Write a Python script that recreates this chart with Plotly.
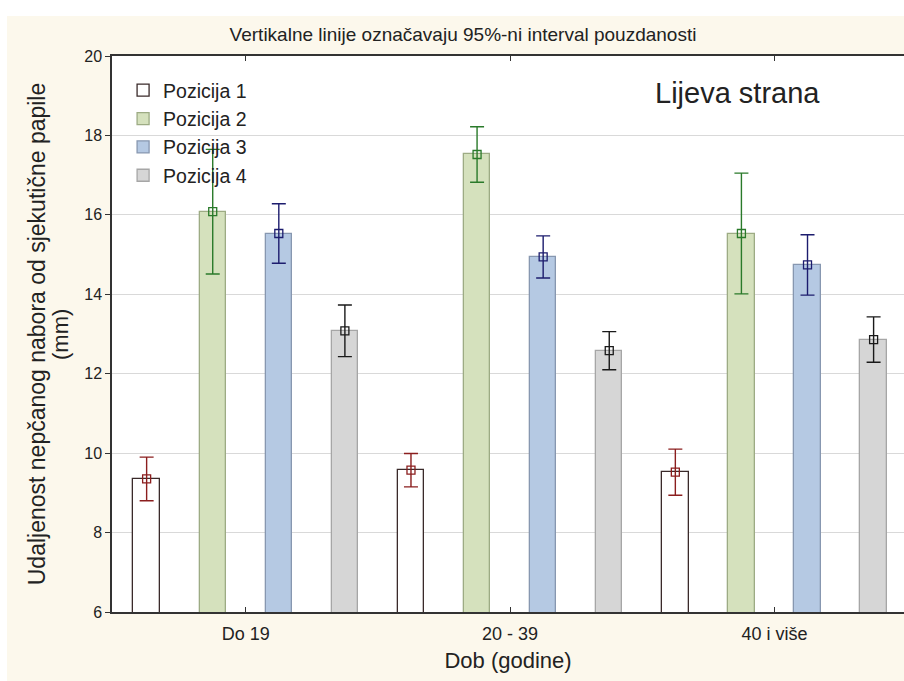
import numpy as np
import plotly.graph_objects as go

# ---- data ----
categories = ["Do 19", "20 - 39", "40 i više"]
series_names = ["Pozicija 1", "Pozicija 2", "Pozicija 3", "Pozicija 4"]
pozicija1 = [9.35, 9.57, 9.52]
pozicija1_ci = [0.55, 0.42, 0.58]
pozicija2 = [16.08, 17.52, 15.53]
pozicija2_ci = [1.57, 0.70, 1.52]
pozicija3 = [15.53, 14.94, 14.74]
pozicija3_ci = [0.75, 0.53, 0.76]
pozicija4 = [13.08, 12.58, 12.86]
pozicija4_ci = [0.65, 0.48, 0.57]
y_ticks = [6, 8, 10, 12, 14, 16, 18, 20]

# ---- styles ----
values = [pozicija1, pozicija2, pozicija3, pozicija4]
cis = [pozicija1_ci, pozicija2_ci, pozicija3_ci, pozicija4_ci]
fills = ["#ffffff", "#d5e1bd", "#b5c9e3", "#d6d6d6"]
borders = ["#3a2a2a", "#9dab84", "#8797b0", "#a6a6a6"]
ecolors = ["#8b1e1e", "#2a7a2a", "#1c1c6e", "#1a1a1a"]
FONT = "Liberation Sans, Arial, sans-serif"

W, H = 904, 681
L, T, B = 112, 56, 69
PLOT_W, PLOT_H = W - L, H - T - B

fig = go.Figure()
cat_idx = np.arange(len(categories))
for k in range(4):
    xs = cat_idx + (k - 1.5) * 0.25
    fig.add_trace(go.Bar(
        x=xs, y=values[k], width=0.1, name=series_names[k],
        marker=dict(color=fills[k], line=dict(color=borders[k], width=1.3)),
    ))
for k in range(4):
    xs = cat_idx + (k - 1.5) * 0.25
    fig.add_trace(go.Scatter(
        x=xs, y=values[k], mode="markers", showlegend=False,
        marker=dict(symbol="square-open", size=8, color=ecolors[k], line=dict(width=1.3)),
        error_y=dict(type="data", array=cis[k], visible=True, color=ecolors[k],
                     thickness=1.4, width=7),
    ))

fig.update_layout(
    width=W, height=H,
    margin=dict(l=L, r=0, t=T, b=B),
    paper_bgcolor="#fcf8ec", plot_bgcolor="#ffffff",
    font=dict(family=FONT, color="#222222"),
    showlegend=True,
    legend=dict(x=0.014, y=1 - 15 / PLOT_H, xanchor="left", yanchor="top",
                bgcolor="rgba(0,0,0,0)", font=dict(size=19.5, family=FONT, color="#222222"),
                tracegroupgap=0),
    title=dict(text="Vertikalne linije označavaju 95%-ni interval pouzdanosti",
               x=463 / W, xanchor="center", xref="container",
               y=1 - 34 / H, yanchor="middle", yref="container",
               font=dict(size=19, family=FONT, color="#222222")),
    bargap=0,
)

fig.update_xaxes(
    range=[-0.506, 2.49], tickvals=list(cat_idx), ticktext=categories,
    ticks="inside", ticklen=5, tickcolor="#333333", tickwidth=1.2,
    showline=True, linecolor="#333333", linewidth=1.5, mirror="ticks",
    showgrid=False, zeroline=False, ticklabelstandoff=5,
    tickfont=dict(size=18, family=FONT, color="#222222"),
    title=dict(text="Dob (godine)", font=dict(size=22, family=FONT, color="#222222"), standoff=9),
)
fig.update_yaxes(
    range=[6, 20], tickvals=y_ticks,
    ticks="outside", ticklen=5, tickcolor="#333333", tickwidth=1.2,
    showline=True, linecolor="#333333", linewidth=1.5, mirror=False,
    showgrid=True, gridcolor="#d9d9d9", gridwidth=1, zeroline=False,
    tickfont=dict(size=16, family=FONT, color="#222222"),
    title=dict(text="Udaljenost nepčanog nabora od sjekutične papile",
               font=dict(size=23, family=FONT, color="#222222"), standoff=32),
)
fig.add_annotation(text="(mm)", xref="paper", yref="paper",
                   x=(60 - L) / PLOT_W, y=0.5, textangle=-90,
                   xanchor="center", yanchor="middle", showarrow=False,
                   font=dict(size=22, family=FONT, color="#222222"))

fig.add_annotation(text="Lijeva strana", xref="paper", yref="paper",
                   x=(737 - L) / PLOT_W, y=1 - (93 - T) / PLOT_H,
                   xanchor="center", yanchor="middle",
                   showarrow=False, font=dict(size=29, family=FONT, color="#222222"))

# white strips along the top and left edge of the picture
fig.add_shape(type="rect", xref="paper", yref="paper", x0=-0.2, x1=1.1,
              y0=1 + (T - 16) / PLOT_H, y1=1 + (T + 2) / PLOT_H,
              fillcolor="#ffffff", line=dict(width=0), layer="below")
fig.add_shape(type="rect", xref="paper", yref="paper", x0=-(L + 2) / PLOT_W, x1=-(L - 7) / PLOT_W,
              y0=-0.2, y1=1.2, fillcolor="#ffffff", line=dict(width=0), layer="below")

fig.write_html("out.html", config={"displayModeBar": False},
               post_script="document.body.style.margin='0';")
